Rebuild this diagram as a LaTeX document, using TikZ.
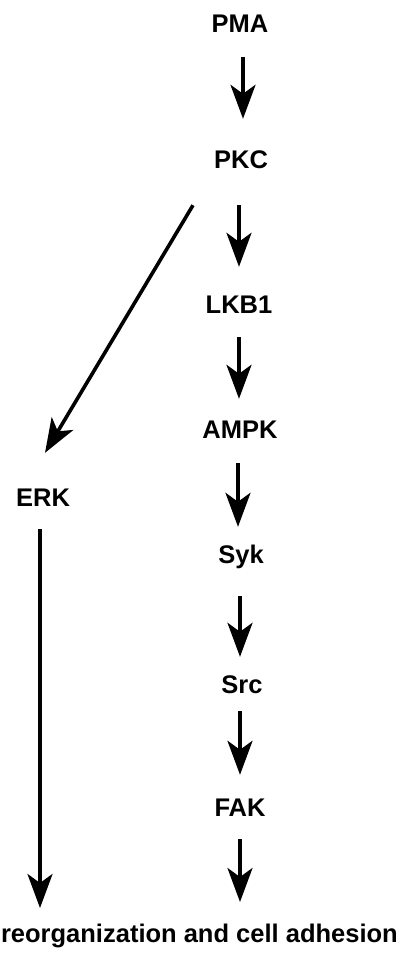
\documentclass[tikz,border=0pt]{standalone}
\usepackage{fontspec}
\setmainfont{Liberation Sans}
\usetikzlibrary{arrows.meta}
\tikzset{
  lbl/.style={font=\fontsize{25.5}{30}\selectfont\bfseries, inner sep=0pt, text height=18pt, text depth=0pt, anchor=base},
  arr/.style={line width=3.6pt, -{Stealth[length=34pt,width=25pt,inset=9pt]}}
}
\begin{document}
\begin{tikzpicture}[x=1pt,y=-1pt]
\useasboundingbox (0,0) rectangle (399,954);
\node[lbl] (pma)  at (240,32)  {PMA};
\node[lbl] (pkc)  at (241,168) {PKC};
\node[lbl] (lkb)  at (239,313) {LKB1};
\node[lbl] (ampk) at (240,438) {AMPK};
\node[lbl] (syk)  at (241,563) {Syk};
\node[lbl] (src)  at (242,693) {Src};
\node[lbl] (fak)  at (240,816) {FAK};
\node[lbl] (erk)  at (43,506)  {ERK};
\node[lbl, anchor=base east] (out) at (398,942) {reorganization and cell adhesion};
\coordinate (tipL) at (40,908);
\coordinate (tipR) at (240,902);

\draw[arr] ([xshift=3pt,yshift=-25pt]pma.south) -- ([xshift=2pt,yshift=31pt]pkc.north);
\draw[arr] ([xshift=-2pt,yshift=-37pt]pkc.south) -- ([yshift=28pt]lkb.north);
\draw[arr] ([yshift=-24pt]lkb.south) -- ([xshift=-1pt,yshift=21pt]ampk.north);
\draw[arr] ([xshift=-2pt,yshift=-25pt]ampk.south) -- ([xshift=-3pt,yshift=18pt]syk.north);
\draw[arr] ([xshift=-1pt,yshift=-33pt]syk.south) -- ([xshift=-2pt,yshift=18pt]src.north);
\draw[arr] ([xshift=-2pt,yshift=-18pt]src.south) -- ([yshift=23pt]fak.north);
\draw[arr] ([yshift=-23pt]fak.south) -- (tipR);
\draw[arr] ([xshift=-48pt,yshift=-37pt]pkc.south) -- ([xshift=2pt,yshift=35pt]erk.north);
\draw[arr] ([xshift=-3pt,yshift=-23pt]erk.south) -- (tipL);
\end{tikzpicture}
\end{document}
